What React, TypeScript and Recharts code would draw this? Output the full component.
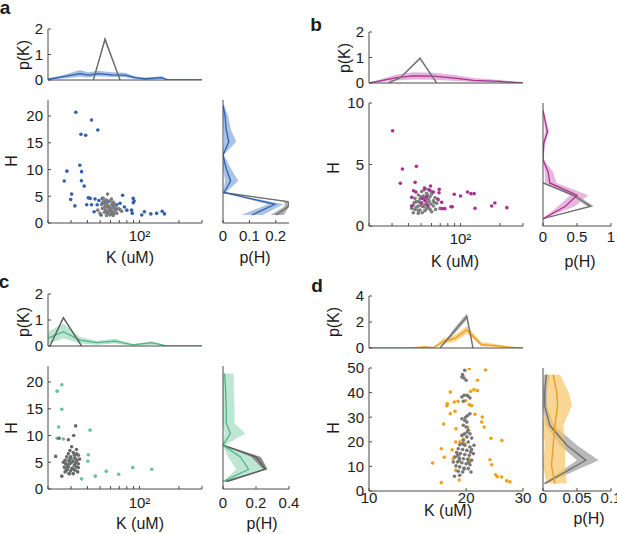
import React from "react";
import { ComposedChart, ScatterChart, Scatter, Line, Area, XAxis, YAxis } from "recharts";

const FONT = "Arial, 'Liberation Sans', Helvetica, sans-serif";
const INK = "#1b1b1b";
const FRAME = "#4a4a4a";

type Pt = [number, number];
type Curve = { x: number[]; m: number[]; lo: number[]; hi: number[] };

// ---- panel a (blue) ----
const aBlue: Pt[] = [
  [32.6, 20.7], [43, 19.25], [48, 17.4], [35.7, 16.6], [38.8, 16.4], [35, 10.8], [27.9, 9.7], [36.1, 9.6],
  [26.6, 7.85], [36, 7.9], [37.8, 6.9], [30.3, 5.4], [29.8, 4.4], [32.1, 3.2], [40.6, 4.7], [42, 4.6],
  [45.7, 4.5], [49, 4.2], [52, 4.6], [39.5, 3.4], [43, 3.4], [47.5, 3.4], [45, 2.1], [50.8, 1.5],
  [74.3, 5.2], [89.5, 4.6], [91, 4.1], [89.5, 3.8], [71, 3.7], [76.6, 3.0], [80, 2.4], [87, 2.4],
  [88, 1.8], [104, 1.5], [109, 2.1], [122, 1.7], [135, 1.8], [149, 2.2], [155, 1.7], [65, 2.7],
  [67, 3.4], [62.5, 3.7], [54.5, 4.0], [54, 3.9], [57, 3.05], [59.5, 2.4], [55.5, 2.1], [63, 3.3],
  [52, 3.7], [57.8, 4.0], [61.3, 1.8],
];
const aGray: Pt[] = [
  [57, 5.4], [53, 4.0], [56, 4.3], [59.5, 4.1], [63, 3.9], [61, 4.5], [51.4, 3.4], [54.5, 3.5],
  [57.8, 3.2], [61.3, 3.4], [64.9, 3.05], [68.9, 2.7], [52, 2.7], [55, 2.4], [58.5, 2.6], [62, 2.2],
  [65.8, 2.4], [71, 2.5], [54, 2.0], [57, 1.8], [60.4, 2.0], [64, 1.8], [50, 1.8], [56, 1.4],
  [59.5, 1.5], [63, 1.4], [54, 2.9], [59.5, 2.85], [56, 3.7], [65, 3.5], [53, 4.6], [73, 2.2],
  [48, 2.4], [67, 1.8], [58.6, 2.3], [55.2, 3.05], [61.3, 2.75],
];
const aTopBlue: Curve = {
  x: [20, 26.2, 35.1, 40.6, 48.4, 61.2, 77.4, 92.3, 110, 147.6, 166, 300],
  m: [0.03, 0.13, 0.25, 0.19, 0.25, 0.2, 0.19, 0.09, 0.05, 0.09, 0, 0],
  lo: [0, 0.06, 0.13, 0.1, 0.15, 0.12, 0.11, 0.04, 0.01, 0.04, 0, 0],
  hi: [0.06, 0.2, 0.39, 0.3, 0.36, 0.3, 0.28, 0.15, 0.09, 0.15, 0.01, 0],
};
const aTopGray: Curve = {
  x: [44.4, 54.5, 71],
  m: [0, 1.6, 0],
  lo: [0, 1.5, 0],
  hi: [0, 1.7, 0],
};
const aSideBlue: Curve = {
  x: [1.5, 3.5, 5.7, 7.85, 10.2, 12.7, 15.2, 17.5, 20, 22],
  m: [0.11, 0.197, 0.004, 0.029, 0.012, 0, 0.022, 0.012, 0.008, 0],
  lo: [0.07, 0.17, 0, 0.008, 0, 0, 0.004, 0.003, 0, 0],
  hi: [0.15, 0.23, 0.01, 0.058, 0.03, 0.003, 0.05, 0.03, 0.02, 0.005],
};
const aSideGray: Curve = {
  x: [1.5, 3.0, 3.5, 4.0, 5.7],
  m: [0.2, 0.245, 0.25, 0.245, 0],
  lo: [0.18, 0.23, 0.235, 0.23, 0],
  hi: [0.23, 0.25, 0.25, 0.25, 0.005],
};

// ---- panel b (magenta) ----
const bMag: Pt[] = [
  [30.3, 7.75], [36, 4.63], [46, 4.85], [34.7, 3.47], [45, 3.55], [43.8, 2.87], [45.6, 2.76], [53.6, 3.03],
  [59, 3.25], [58, 2.93], [62, 2.76], [68.8, 2.98], [68.5, 2.7], [42.4, 2.33], [67, 2.2], [71.8, 1.93],
  [42.4, 1.63], [56, 1.68], [72.5, 1.41], [76, 1.41], [84.5, 1.57], [86.5, 1.57], [89.5, 2.58], [100, 2.44],
  [113, 2.76], [120, 2.63], [127, 2.63], [129, 1.44], [173, 1.63], [183, 1.87], [226, 1.49], [51, 2.25],
  [53.6, 2.06], [50, 1.85], [55, 2.38],
];
const bGray: Pt[] = [
  [53, 3.1], [56.8, 2.97], [50.5, 2.8], [55, 2.66], [60.2, 2.6], [47.6, 2.52], [52, 2.43], [58.5, 2.38],
  [63.8, 2.3], [44.9, 2.25], [49, 2.2], [53.5, 2.11], [56.8, 2.17], [62, 2.05], [46, 1.98], [50.5, 1.9],
  [55, 1.84], [59.5, 1.79], [65.7, 1.84], [43.6, 1.71], [47.6, 1.62], [52, 1.57], [56.8, 1.52], [62, 1.62],
  [44.9, 1.35], [49, 1.3], [53.5, 1.25], [58.5, 1.35], [64.5, 1.35], [43.6, 1.08], [47.6, 1.03], [51, 1.08],
  [69.7, 1.43], [49.8, 2.38], [54, 2.32], [48, 1.98], [57.5, 1.98], [53, 1.71], [46, 1.52], [55, 1.43],
  [60.2, 1.16], [50.5, 1.62], [56, 2.52], [44.3, 1.9], [63, 1.93], [67.7, 2.11], [59.5, 2.8], [52.5, 2.93],
  [47.6, 1.25], [42.4, 1.43],
];
const bTopMag: Curve = {
  x: [20, 24.3, 32.5, 43.6, 62, 93.5, 125, 200, 300],
  m: [0, 0.08, 0.21, 0.28, 0.27, 0.18, 0.1, 0.06, 0],
  lo: [0, 0.03, 0.1, 0.14, 0.13, 0.08, 0.04, 0.02, 0],
  hi: [0, 0.14, 0.33, 0.42, 0.4, 0.3, 0.2, 0.12, 0.01],
};
const bTopGray: Curve = {
  x: [28.1, 34.5, 49.1, 65.7],
  m: [0, 0.2, 0.97, 0],
  lo: [0, 0.17, 0.92, 0],
  hi: [0, 0.23, 1.02, 0],
};
const bSideMag: Curve = {
  x: [0.6, 1.6, 2.5, 3.5, 4.4, 5.4, 6.7, 7.67, 9.4],
  m: [0, 0.33, 0.5, 0.1, 0.075, 0, 0.01, 0.065, 0],
  lo: [0, 0.22, 0.4, 0.03, 0.025, 0, 0, 0.03, 0],
  hi: [0.02, 0.47, 0.67, 0.2, 0.15, 0.01, 0.03, 0.09, 0.01],
};
const bSideGray: Curve = {
  x: [0.6, 1.6, 2.5, 3.5],
  m: [0, 0.7, 0.45, 0],
  lo: [0, 0.65, 0.4, 0],
  hi: [0.02, 0.75, 0.5, 0.02],
};

// ---- panel c (green) ----
const cGreen: Pt[] = [
  [25.5, 19.5], [23.5, 18.3], [25.5, 14.9], [24.1, 11.6], [41.9, 11.0], [23.5, 9.5], [26.2, 9.35], [40.6, 6.4],
  [40.3, 5.2], [36.1, 1.9], [46, 2.4], [55.7, 3.3], [69.3, 2.75], [88.7, 4.0], [124, 3.7], [28.6, 5.0],
  [30.3, 3.8], [32.2, 4.4], [27, 3.9], [33.1, 5.36], [29.4, 2.87], [31.2, 5.6], [27.8, 4.7],
];
const cGray: Pt[] = [
  [30.3, 7.9], [29.4, 7.2], [28.6, 6.6], [31.2, 6.8], [33.1, 6.6], [34.1, 6.3], [27.8, 6.0], [29.8, 6.0],
  [32.2, 5.8], [27, 5.36], [28.9, 5.36], [31, 5.2], [33.3, 5.36], [34.9, 5.6], [27.3, 4.73], [29.4, 4.73],
  [31.8, 4.5], [34.1, 4.73], [26.6, 4.1], [28.6, 4.1], [30.7, 3.9], [33, 4.1], [27.8, 3.5], [29.8, 3.4],
  [32.2, 3.5], [28.9, 2.87], [31.2, 2.87], [33.7, 3.2], [27, 3.2], [28.2, 4.4], [30.3, 5.0], [32.6, 4.9],
  [29.6, 5.7], [31.8, 6.3], [28, 3.8], [31.4, 3.7], [26.2, 5.0], [34.1, 4.0], [32.5, 11.8], [31.4, 10.0],
  [28.6, 9.2], [24.3, 9.5], [22.9, 6.1], [25.5, 2.4], [33, 7.4],
];
const cTopGreen: Curve = {
  x: [20.1, 26.2, 35.1, 47.1, 65, 89.6, 124, 161, 300],
  m: [0.3, 0.55, 0.23, 0.13, 0.19, 0.04, 0.13, 0, 0],
  lo: [0.08, 0.3, 0.1, 0.05, 0.1, 0, 0.05, 0, 0],
  hi: [0.55, 0.87, 0.35, 0.2, 0.28, 0.08, 0.18, 0.01, 0],
};
const cTopGray: Curve = {
  x: [20.7, 26.2, 36.1],
  m: [0, 1.09, 0],
  lo: [0, 1.05, 0],
  hi: [0, 1.12, 0],
};
const cSideGreen: Curve = {
  x: [1.4, 3.7, 6.0, 8.2, 10.4, 12.3, 15.1, 19.1, 21.6],
  m: [0, 0.155, 0.105, 0, 0.045, 0.02, 0.02, 0.015, 0.01],
  lo: [0, 0.08, 0.03, 0, 0.01, 0, 0, 0, 0],
  hi: [0.01, 0.25, 0.17, 0.01, 0.135, 0.07, 0.07, 0.065, 0.065],
};
const cSideGray: Curve = {
  x: [1.4, 3.7, 6.0, 8.2],
  m: [0.02, 0.256, 0.2, 0],
  lo: [0, 0.24, 0.17, 0],
  hi: [0.04, 0.27, 0.23, 0.01],
};

// ---- panel d (orange) ----
const dOrange: Pt[] = [
  [20.45, 49.7], [22.98, 49.2], [21.7, 45], [20.65, 40.5], [21.14, 41.2], [21.66, 40.8], [17.86, 40.2], [17.48, 35.5],
  [17.44, 34.7], [18.37, 36.2], [18.87, 36.5], [19.93, 36.7], [20.45, 35.1], [20.8, 34.7], [18.47, 32.4], [17.86, 31.4],
  [21.3, 31.2], [22.43, 30.1], [17.03, 27.2], [22.34, 28.0], [22.75, 26.0], [18.6, 25.3], [20.22, 25.9], [23.88, 21.4],
  [25.8, 20.5], [18.56, 19.9], [19.13, 19.9], [19.6, 21.0], [16.75, 17.2], [18.1, 16.7], [18.69, 15.6], [15.75, 11.4],
  [17.11, 13.7], [18.24, 13.1], [20.4, 13.1], [23.7, 12.7], [23.99, 10.7], [24.68, 6.6], [24.97, 5.8], [25.76, 5.7],
  [26.7, 4.1], [27.33, 3.7], [16.75, 3.4], [19.04, 4.5], [18.56, 8.4], [19.04, 12.1], [20.45, 11.8], [19.6, 22.9],
  [19.8, 19.2], [18.37, 13.8], [19.5, 47],
];
const dGray: Pt[] = [
  [19.8, 49.1], [19.4, 46.3], [19.7, 45.9], [20.0, 45.0], [19.5, 47.3], [19.7, 38.9], [20.1, 38.9], [20.3, 38.5],
  [20.55, 37.8], [19.6, 36.5], [20.55, 31.4], [19.4, 29.4], [19.8, 28.7], [20.1, 28.0], [19.6, 26.7], [20.0, 26.0],
  [20.3, 24.7], [19.8, 23.3], [20.55, 23.3], [19.4, 22.6], [20.1, 22.0], [20.8, 21.5], [19.6, 20.6], [20.3, 19.9],
  [19.1, 18.8], [19.8, 18.6], [20.55, 17.9], [18.9, 17.2], [19.5, 16.9], [20.1, 16.5], [20.8, 16.9], [18.7, 15.6],
  [19.2, 15.2], [19.8, 14.8], [20.45, 14.5], [21.05, 15.2], [18.5, 13.8], [19.05, 13.4], [19.6, 13.1], [20.2, 12.9],
  [20.8, 12.5], [18.8, 11.8], [19.4, 11.5], [20.0, 11.1], [20.55, 10.7], [18.6, 10.2], [19.1, 9.8], [19.7, 9.35],
  [20.3, 9.1], [18.9, 8.0], [19.5, 7.7], [18.4, 6.0], [19.1, 6.4], [20.7, 7.7], [21.15, 18.6], [18.25, 11.8],
  [20.15, 24.0], [19.5, 19.2], [19.0, 12.5], [20.65, 15.9], [20.2, 30.7], [19.9, 30.0], [19.4, 38.2], [18.85, 14.5],
  [20.35, 11.8], [19.7, 8.9],
];
const dTopOrange: Curve = {
  x: [10, 13.4, 14.9, 15.8, 17.0, 18.5, 20.1, 22.3, 24.0, 26.7, 30],
  m: [0, 0, 0.08, 0.02, 0.5, 0.75, 1.4, 0.25, 0.2, 0.08, 0],
  lo: [0, 0, 0.02, 0, 0.3, 0.5, 1.1, 0.15, 0.1, 0.02, 0],
  hi: [0, 0.02, 0.12, 0.06, 0.75, 1.0, 1.7, 0.45, 0.35, 0.15, 0.01],
};
const dTopGray: Curve = {
  x: [16.6, 18.5, 20.1, 21.0],
  m: [0, 1.38, 2.42, 0],
  lo: [0, 1.15, 2.17, 0],
  hi: [0, 1.62, 2.68, 0],
};
const dSideOrange: Curve = {
  x: [3.0, 10.4, 18.6, 26.7, 34.8, 40.2, 47.3],
  m: [0.0175, 0.0125, 0.015, 0.0175, 0.0215, 0.02, 0.015],
  lo: [0.005, 0, 0.0025, 0, 0.005, 0.006, 0.0025],
  hi: [0.035, 0.0325, 0.0325, 0.03, 0.0425, 0.0375, 0.025],
};
const dSideGray: Curve = {
  x: [3.0, 12.5, 18.6, 26.7, 34.8, 40.2, 47.3],
  m: [0.0025, 0.063, 0.035, 0.01, 0.0025, 0.0025, 0.005],
  lo: [0, 0.05, 0.025, 0.004, 0, 0, 0.0015],
  hi: [0.005, 0.082, 0.05, 0.016, 0.006, 0.006, 0.01],
};

const logTicks = [20, 30, 40, 50, 60, 70, 80, 90, 100, 200, 300];
const ticksD = [10, 20, 30];

// layout helpers
const PL = 40;
const PT = 10;
const PR = 16;
const PB = 30;

type Box = { left: number; top: number; w: number; h: number };

const tickFont = { fontSize: 15, fill: INK, fontFamily: FONT };
const frame = { axisLine: { stroke: FRAME }, tickLine: { stroke: FRAME }, tickSize: -3 };

function rowsOf(c: Curve, g: Curve) {
  const rows: any[] = [];
  c.x.forEach((v, i) => rows.push({ v, m: c.m[i], band: [c.lo[i], c.hi[i]] }));
  g.x.forEach((v, i) => rows.push({ v, gm: g.m[i], gband: [g.lo[i], g.hi[i]] }));
  return rows.sort((p, q) => p.v - q.v);
}

function Holder({ box, children }: { box: Box; children: React.ReactNode }) {
  return (
    <div style={{ position: "absolute", left: box.left - PL, top: box.top - PT }}>{children}</div>
  );
}

function Txt({ x, y, children, rot, size = 16, bold }: any) {
  return (
    <div
      style={{
        position: "absolute",
        left: x,
        top: y,
        transform: `translate(-50%, -50%)${rot ? " rotate(-90deg)" : ""}`,
        fontSize: size,
        fontFamily: FONT,
        fontWeight: bold ? 700 : 400,
        color: INK,
        lineHeight: bold ? 0.75 : 1,
        whiteSpace: "nowrap",
      }}
    >
      {children}
    </div>
  );
}

type Theme = { line: string; band: string; gline: string; gband: string };

function TopMarginal(props: {
  box: Box; xDomain: number[]; xTicks: number[];
  yDomain: number[]; yTicks: number[]; c: Curve; g: Curve; t: Theme;
}) {
  const { box, xDomain, xTicks, yDomain, yTicks, c, g, t } = props;
  const rows = rowsOf(c, g);
  return (
    <Holder box={box}>
      <ComposedChart width={box.w + PL + PR} height={box.h + PT + PB} data={rows}
        margin={{ top: PT, right: PR, bottom: 0, left: 0 }}>
        <XAxis type="number" dataKey="v" scale="log" domain={xDomain} ticks={xTicks}
          allowDataOverflow tick={false} height={PB} {...frame} />
        <XAxis xAxisId="top" orientation="top" type="number" scale="log" domain={xDomain}
          ticks={xTicks} allowDataOverflow tick={false} height={0} {...frame} />
        <YAxis type="number" domain={yDomain} ticks={yTicks} allowDataOverflow tick={tickFont}
          tickMargin={8} width={PL} interval={0} {...frame} />
        <YAxis yAxisId="right" orientation="right" type="number" domain={yDomain} ticks={yTicks}
          tick={false} width={0} {...frame} />
        <Area dataKey="band" type="linear" stroke="none" fill={t.band} fillOpacity={0.75}
          connectNulls isAnimationActive={false} />
        <Area dataKey="gband" type="linear" stroke="none" fill={t.gband} fillOpacity={0.8}
          connectNulls isAnimationActive={false} />
        <Line dataKey="m" type="linear" stroke={t.line} strokeWidth={1.3} dot={false}
          connectNulls isAnimationActive={false} />
        <Line dataKey="gm" type="linear" stroke={t.gline} strokeWidth={1.4} dot={false}
          connectNulls isAnimationActive={false} />
      </ComposedChart>
    </Holder>
  );
}

function SideMarginal(props: {
  box: Box; xDomain: number[]; xTicks: number[]; yDomain: number[]; yTicks: number[];
  c: Curve; g: Curve; t: Theme; tickGap: number;
}) {
  const { box, xDomain, xTicks, yDomain, yTicks, c, g, t, tickGap } = props;
  const rows = rowsOf(c, g);
  return (
    <Holder box={box}>
      <ComposedChart layout="vertical" width={box.w + PL + PR} height={box.h + PT + PB} data={rows}
        margin={{ top: PT, right: PR, bottom: 0, left: 0 }}>
        <XAxis type="number" domain={xDomain} ticks={xTicks} allowDataOverflow tick={tickFont}
          tickMargin={tickGap} height={PB} interval={0} {...frame} />
        <XAxis xAxisId="top" orientation="top" type="number" domain={xDomain} ticks={xTicks}
          allowDataOverflow tick={false} height={0} {...frame} />
        <YAxis type="number" dataKey="v" domain={yDomain} ticks={yTicks} allowDataOverflow reversed
          tick={false} width={PL} {...frame} />
        <YAxis yAxisId="right" orientation="right" type="number" domain={yDomain} ticks={yTicks}
          reversed tick={false} width={0} {...frame} />
        <Area dataKey="gband" type="linear" stroke="none" fill={t.gband} fillOpacity={0.8}
          connectNulls isAnimationActive={false} />
        <Area dataKey="band" type="linear" stroke="none" fill={t.band} fillOpacity={0.7}
          connectNulls isAnimationActive={false} />
        <Line dataKey="gm" type="linear" stroke={t.gline} strokeWidth={1.4} dot={false}
          connectNulls isAnimationActive={false} />
        <Line dataKey="m" type="linear" stroke={t.line} strokeWidth={1.3} dot={false}
          connectNulls isAnimationActive={false} />
      </ComposedChart>
    </Holder>
  );
}

const dot = (fill: string) => (p: any) =>
  p.cx == null ? <g /> : <circle cx={p.cx} cy={p.cy} r={1.8} fill={fill} />;

function ScatterPanel(props: {
  box: Box; xDomain: number[]; xTicks: number[]; xFmt: (v: number) => string;
  yDomain: number[]; yTicks: number[]; pts: Pt[]; gray: Pt[]; color: string; grayColor: string;
  grayOnTop: boolean; tickGap: number;
}) {
  const { box, xDomain, xTicks, xFmt, yDomain, yTicks, pts, gray, color, grayColor, grayOnTop, tickGap } = props;
  const colData = pts.map(([K, H]) => ({ K, H }));
  const grayData = gray.map(([K, H]) => ({ K, H }));
  const colSeries = <Scatter key="c" data={colData} shape={dot(color)} isAnimationActive={false} />;
  const graySeries = <Scatter key="g" data={grayData} shape={dot(grayColor)} isAnimationActive={false} />;
  return (
    <Holder box={box}>
      <ScatterChart width={box.w + PL + PR} height={box.h + PT + PB}
        margin={{ top: PT, right: PR, bottom: 0, left: 0 }}>
        <XAxis type="number" dataKey="K" scale="log" domain={xDomain} ticks={xTicks}
          allowDataOverflow tick={tickFont} tickFormatter={xFmt} tickMargin={tickGap} height={PB}
          interval={0} {...frame} />
        <XAxis xAxisId="top" orientation="top" type="number" scale="log" domain={xDomain}
          ticks={xTicks} allowDataOverflow tick={false} height={0} {...frame} />
        <YAxis type="number" dataKey="H" domain={yDomain} ticks={yTicks} allowDataOverflow
          tick={tickFont} tickMargin={8} width={PL} interval={0} {...frame} />
        <YAxis yAxisId="right" orientation="right" type="number" domain={yDomain} ticks={yTicks}
          tick={false} width={0} {...frame} />
        {grayOnTop ? [colSeries, graySeries] : [graySeries, colSeries]}
      </ScatterChart>
    </Holder>
  );
}

const logFmt = (v: number) => (v === 100 ? "10²" : "");
const plainFmt = (v: number) => String(v);

const blueT: Theme = { line: "#2f5fae", band: "#86a8d8", gline: "#6a6a6a", gband: "#9c9c9c" };
const magT: Theme = { line: "#a8338f", band: "#dc9ad0", gline: "#707070", gband: "#a6a6a6" };
const greenT: Theme = { line: "#4fb585", band: "#a3dcc0", gline: "#5c5c5c", gband: "#6e6e6e" };
const orangeT: Theme = { line: "#eb9c1c", band: "#f6c566", gline: "#707070", gband: "#a8a8a8" };

export default function App() {
  return (
    <div style={{ position: "absolute", left: 0, top: 0, width: 617, height: 534, background: "#fff", overflow: "hidden" }}>
      {/* panel a */}
      <TopMarginal box={{ left: 48, top: 29, w: 154, h: 51 }} xDomain={[20, 300]} xTicks={logTicks}
        yDomain={[0, 2]} yTicks={[0, 1, 2]} c={aTopBlue} g={aTopGray} t={blueT} />
      <ScatterPanel box={{ left: 48, top: 100, w: 154, h: 123 }} xDomain={[20, 300]} xTicks={logTicks}
        xFmt={logFmt} yDomain={[0, 23]} yTicks={[0, 5, 10, 15, 20]} pts={aBlue} gray={aGray} color="#3160ad"
        grayColor="#7d7d7d" grayOnTop tickGap={10} />
      <SideMarginal box={{ left: 223, top: 100, w: 66, h: 123 }} xDomain={[0, 0.25]} xTicks={[0, 0.1, 0.2]}
        yDomain={[0, 23]} yTicks={[0, 5, 10, 15, 20]} c={aSideBlue} g={aSideGray} t={blueT} tickGap={10} />

      {/* panel b */}
      <TopMarginal box={{ left: 369, top: 32, w: 154, h: 51 }} xDomain={[20, 300]} xTicks={logTicks}
        yDomain={[0, 2]} yTicks={[0, 1, 2]} c={bTopMag} g={bTopGray} t={magT} />
      <ScatterPanel box={{ left: 369, top: 103, w: 154, h: 123 }} xDomain={[20, 300]} xTicks={logTicks}
        xFmt={logFmt} yDomain={[0, 10]} yTicks={[0, 5, 10]} pts={bMag} gray={bGray} color="#ab2f93"
        grayColor="#7d7d7d" grayOnTop={false} tickGap={10} />
      <SideMarginal box={{ left: 543, top: 103, w: 68, h: 123 }} xDomain={[0, 1]} xTicks={[0, 0.5, 1]}
        yDomain={[0, 10]} yTicks={[0, 5, 10]} c={bSideMag} g={bSideGray} t={magT} tickGap={8} />

      {/* panel c */}
      <TopMarginal box={{ left: 48, top: 294, w: 154, h: 52 }} xDomain={[20, 300]} xTicks={logTicks}
        yDomain={[0, 2]} yTicks={[0, 1, 2]} c={cTopGreen} g={cTopGray} t={greenT} />
      <ScatterPanel box={{ left: 48, top: 366, w: 154, h: 123 }} xDomain={[20, 300]} xTicks={logTicks}
        xFmt={logFmt} yDomain={[0, 23]} yTicks={[0, 5, 10, 15, 20]} pts={cGreen} gray={cGray} color="#62c699"
        grayColor="#6a6a6a" grayOnTop tickGap={11} />
      <SideMarginal box={{ left: 223, top: 366, w: 66, h: 123 }} xDomain={[0, 0.4]} xTicks={[0, 0.2, 0.4]}
        yDomain={[0, 23]} yTicks={[0, 5, 10, 15, 20]} c={cSideGreen} g={cSideGray} t={greenT} tickGap={11} />

      {/* panel d */}
      <TopMarginal box={{ left: 369, top: 296, w: 154, h: 52 }} xDomain={[10, 30]} xTicks={ticksD}
        yDomain={[0, 4]} yTicks={[0, 2, 4]} c={dTopOrange} g={dTopGray} t={orangeT} />
      <ScatterPanel box={{ left: 369, top: 368, w: 154, h: 123 }} xDomain={[10, 30]} xTicks={ticksD}
        xFmt={plainFmt} yDomain={[0, 50]} yTicks={[0, 10, 20, 30, 40, 50]} pts={dOrange} gray={dGray}
        color="#f0a01a" grayColor="#777777" grayOnTop tickGap={4} />
      <SideMarginal box={{ left: 543, top: 368, w: 68, h: 123 }} xDomain={[0, 0.1]} xTicks={[0, 0.05, 0.1]}
        yDomain={[0, 50]} yTicks={[0, 10, 20, 30, 40, 50]} c={dSideOrange} g={dSideGray} t={orangeT} tickGap={4} />

      {/* panel letters */}
      <Txt x={5} y={8} size={19} bold>a</Txt>
      <Txt x={316} y={25} size={19} bold>b</Txt>
      <Txt x={4} y={282} size={19} bold>c</Txt>
      <Txt x={317} y={286} size={19} bold>d</Txt>

      {/* axis titles */}
      <Txt x={24} y={55} rot>p(K)</Txt>
      <Txt x={12} y={161} rot>H</Txt>
      <Txt x={130} y={258}>K (uM)</Txt>
      <Txt x={255} y={258}>p(H)</Txt>

      <Txt x={345} y={58} rot>p(K)</Txt>
      <Txt x={334} y={168} rot>H</Txt>
      <Txt x={455} y={262}>K (uM)</Txt>
      <Txt x={580} y={262}>p(H)</Txt>

      <Txt x={24} y={322} rot>p(K)</Txt>
      <Txt x={12} y={428} rot>H</Txt>
      <Txt x={140} y={524}>K (uM)</Txt>
      <Txt x={262} y={524}>p(H)</Txt>

      <Txt x={334} y={322} rot>p(K)</Txt>
      <Txt x={334} y={428} rot>H</Txt>
      <Txt x={448} y={511}>K (uM)</Txt>
      <Txt x={589} y={519}>p(H)</Txt>
    </div>
  );
}
